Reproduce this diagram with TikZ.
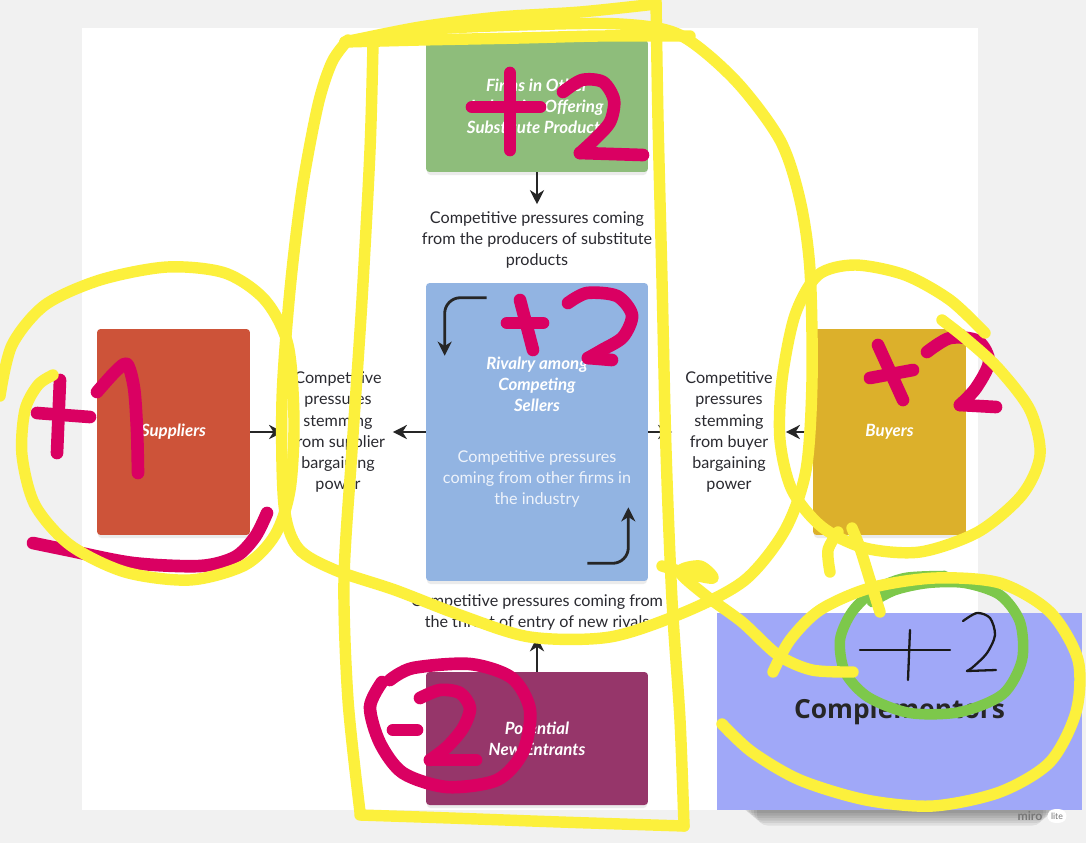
\documentclass[tikz,border=0pt]{standalone}
\usepackage{fontspec}
\setmainfont{Lato}
\newfontfamily\compfont{Open Sans}
\usetikzlibrary{arrows.meta,calc}

\definecolor{boardgray}{HTML}{F1F1F1}
\definecolor{subsgreen}{HTML}{8EBD7B}
\definecolor{rivalblue}{HTML}{92B4E2}
\definecolor{supred}{HTML}{CD5339}
\definecolor{buygold}{HTML}{DCB02B}
\definecolor{entrplum}{HTML}{96366A}
\definecolor{compblue}{HTML}{A0A8F8}
\definecolor{pressuretext}{HTML}{2A2A30}
\definecolor{rivalbody}{HTML}{EEF3FB}
\definecolor{penyellow}{HTML}{FCF03C}
\definecolor{penpink}{HTML}{DA0062}
\definecolor{pengreen}{HTML}{7DC84B}
\definecolor{mirogray}{HTML}{777777}

\newcommand{\rivalline}[1]{{\mdseries\upshape\fontsize{9.2}{12}\selectfont\color{rivalbody}#1}}

\tikzset{
  force/.style={rounded corners=2pt, text=white, align=center, inner sep=0pt,
    font=\fontsize{9.6}{12}\selectfont\bfseries\itshape},
  lift/.style={fill=black, opacity=0.08, rounded corners=2pt},
  pressure/.style={text=pressuretext, align=center, inner sep=4pt,
    font=\fontsize{9.2}{12}\selectfont},
  push/.style={draw=black!85, line width=1.6pt, -{Stealth[length=8pt,width=8pt,inset=2.5pt]}},
  yellowpen/.style={draw=penyellow, line width=6.5pt, line cap=round, line join=round},
  pinkpen/.style={draw=penpink, line width=7.2pt, line cap=round, line join=round},
  greenpen/.style={draw=pengreen, line width=6pt, line cap=round, line join=round},
  blackpen/.style={draw=black!90, line width=1.3pt, line cap=round, line join=round}
}

\begin{document}
\begin{tikzpicture}[x=0.02cm, y=-0.02cm]
\useasboundingbox (0,0) rectangle (1086,843);
\fill[boardgray] (0,0) rectangle (1086,843);
\fill[white] (82,28) rectangle (978,810);

% soft shadows under the boxes
\fill[lift] (427,44) rectangle (647,175);
\fill[lift] (427,287) rectangle (647,584);
\fill[lift] (98,333) rectangle (249,538);
\fill[lift] (814,333) rectangle (965,538);
\fill[lift] (427,676) rectangle (647,808);

% the five forces
\node[force, fill=subsgreen, minimum width=4.44cm, minimum height=2.64cm] (subs) at (537,106) {Firms in Other\\Industries Offering\\Substitute Products};
\node[force, fill=rivalblue, minimum width=4.44cm, minimum height=5.96cm] (rival) at (537,432) {Rivalry among\\Competing\\Sellers\\[17pt]\rivalline{Competitive pressures}\\\rivalline{coming from other firms in}\\\rivalline{the industry}};
\node[force, fill=supred, minimum width=3.06cm, minimum height=4.12cm] (sup) at (173.5,432) {Suppliers};
\node[force, fill=buygold, minimum width=3.06cm, minimum height=4.12cm] (buy) at (889.5,432) {Buyers};
\node[force, fill=entrplum, minimum width=4.44cm, minimum height=2.66cm] (entr) at (537,738.5) {Potential\\New Entrants};

\node[pressure] (subtxt) at (537,240) {Competitive pressures coming\\from the producers of substitute\\products};
\node[pressure, minimum width=2.18cm] (suptxt) at (338,432) {Competitive\\pressures\\stemming\\from supplier\\bargaining\\power};
\node[pressure, minimum width=2.26cm] (buytxt) at (729,432) {Competitive\\pressures\\stemming\\from buyer\\bargaining\\power};
\node[pressure] (newtxt) at (537,612) {Competitive pressures coming from\\the threat of entry of new rivals};

\draw[push] (subs) -- (subtxt);
\draw[push] (sup) -- (suptxt);
\draw[push] (rival) -- (suptxt);
\draw[push] (rival) -- (buytxt);
\draw[push] (buy) -- (buytxt);
\draw[push] (entr) -- (newtxt);
\draw[push, rounded corners=9pt] ($(rival.north west)+(61,15)$) -- ($(rival.north west)+(19,15)$) -- ($(rival.north west)+(19,73)$);
\draw[push, rounded corners=9pt] ($(rival.south east)+(-61,-18)$) -- ($(rival.south east)+(-20,-18)$) -- ($(rival.south east)+(-20,-74)$);

% complementors and its shadow
\foreach \s in {0,...,5}
  \fill[black, opacity=0.07, rounded corners=6pt] (742+3*\s,790) rectangle (1058-3*\s,813+2.5*\s);
\node[fill=compblue, minimum width=7.32cm, minimum height=3.94cm, inner sep=0pt,
  font=\compfont\bfseries\fontsize{15}{18}\selectfont, text=black!85] (comp) at (899.5,711.5) {Complementors};

\node[text=mirogray, font=\fontsize{7}{8}\selectfont\bfseries, inner sep=1pt] (miro) at (1030,816) {miro};
\node[fill=white, text=mirogray, rounded corners=4pt, font=\fontsize{5}{6}\selectfont, inner sep=2pt] (lite) at (1057,816) {lite};

% pink marks
\draw[pinkpen] (60,380) -- (57,453);
\draw[pinkpen] (37,413) -- (90,417);
\draw[pinkpen] plot[smooth] coordinates {(97,392) (115,372) (127,364) (134,388) (137,430) (138,473)};
\draw[pinkpen] plot[smooth] coordinates {(33,543) (67,550) (133,563) (200,566) (235,557) (255,537) (267,513)};
\draw[pinkpen] (510,73) -- (510,150);
\draw[pinkpen] (472,107) -- (540,107);
\draw[pinkpen] plot[smooth] coordinates {(563,92) (582,80) (603,82) (614,100) (610,122) (594,140) (580,153)};
\draw[pinkpen] (580,153) -- (643,155);
\draw[pinkpen] (520,300) -- (533,350);
\draw[pinkpen] (507,323) -- (543,323);
\draw[pinkpen] plot[smooth] coordinates {(568,303) (587,293) (617,296) (632,315) (623,337) (602,350) (588,358)};
\draw[pinkpen] (588,358) -- (612,360);
\draw[pinkpen] (878,345) -- (903,400);
\draw[pinkpen] (870,378) -- (913,370);
\draw[pinkpen] plot[smooth] coordinates {(927,352) (950,338) (978,341) (989,362) (976,388) (960,405)};
\draw[pinkpen] (960,405) -- (996,407);
\draw[pinkpen] (393,730) -- (417,730);
\draw[pinkpen] plot[smooth] coordinates {(420,698) (440,690) (460,693) (470,708) (463,728) (447,747) (430,760)};
\draw[pinkpen] (430,760) -- (476,760);
\draw[pinkpen] plot[smooth] coordinates {(390,680) (413,668) (470,664) (512,678) (530,710) (523,752) (497,780) (447,787) (403,773) (380,743) (370,707) (382,682)};

% green ring and thin +2
\draw[greenpen] plot[smooth] coordinates {(945,576) (905,578) (875,590) (852,612) (840,640) (845,672) (868,697) (910,713) (960,712) (1003,694) (1022,660) (1020,622) (1000,595) (965,583) (928,583) (895,590) (872,602)};
\draw[blackpen] (860,650) -- (950,650);
\draw[blackpen] (910,630) -- (908,680);
\draw[blackpen] plot[smooth] coordinates {(963,621) (977,613) (990,618) (995,635) (987,653) (973,667) (967,671)};
\draw[blackpen] (967,671) -- (996,670);

% yellow scribbles
\draw[yellowpen] plot[smooth] coordinates {(345,42) (420,40) (520,38) (600,36) (690,36)};
\draw[yellowpen] plot[smooth] coordinates {(345,42) (420,27) (500,17) (580,12) (656,4)};
\draw[yellowpen] plot[smooth] coordinates {(373,44) (370,150) (362,300) (352,450) (344,580) (348,700) (360,812)};
\draw[yellowpen] plot[smooth] coordinates {(360,815) (450,818) (560,822) (684,826)};
\draw[yellowpen] plot[smooth] coordinates {(656,0) (658,120) (662,280) (666,450) (672,600) (680,720) (684,826)};
\draw[yellowpen] plot[smooth] coordinates {(345,42) (420,30) (520,25) (620,24) (680,35) (735,80) (780,140) (800,200) (810,270) (812,380) (806,470) (785,530) (745,580) (685,612) (610,637) (530,637) (460,615) (395,590) (335,570) (298,548) (284,505) (282,400) (290,290) (302,190) (318,105) (332,62) (348,40)};
\draw[yellowpen] plot[smooth] coordinates {(0,396) (12,345) (45,305) (100,280) (167,267) (225,273) (265,300) (288,345) (294,420) (290,490) (275,535) (245,565) (190,580) (125,572) (70,545) (35,505) (22,455) (25,410) (38,385) (53,375)};
\draw[yellowpen] plot[smooth] coordinates {(985,333) (950,300) (905,275) (855,265) (818,275) (795,315) (782,380) (780,440) (792,490) (822,527) (865,548) (920,552) (978,532) (1022,495) (1040,455) (1030,410) (998,368) (965,338) (942,320)};
\draw[yellowpen] plot[smooth] coordinates {(662,566) (690,574) (713,578) (700,566) (680,572) (705,595) (742,622) (778,655) (812,670) (853,672)};
\draw[yellowpen] plot[smooth] coordinates {(773,672) (790,640) (820,610) (870,588) (935,578) (1000,583) (1050,612) (1078,660) (1076,712) (1050,762) (1000,792) (933,806) (866,800) (800,780) (752,752) (722,724)};
\draw[yellowpen] plot[smooth] coordinates {(880,612) (870,580) (860,548) (852,528)};
\draw[yellowpen] plot[smooth] coordinates {(830,572) (828,550) (838,532)};
\end{tikzpicture}
\end{document}
